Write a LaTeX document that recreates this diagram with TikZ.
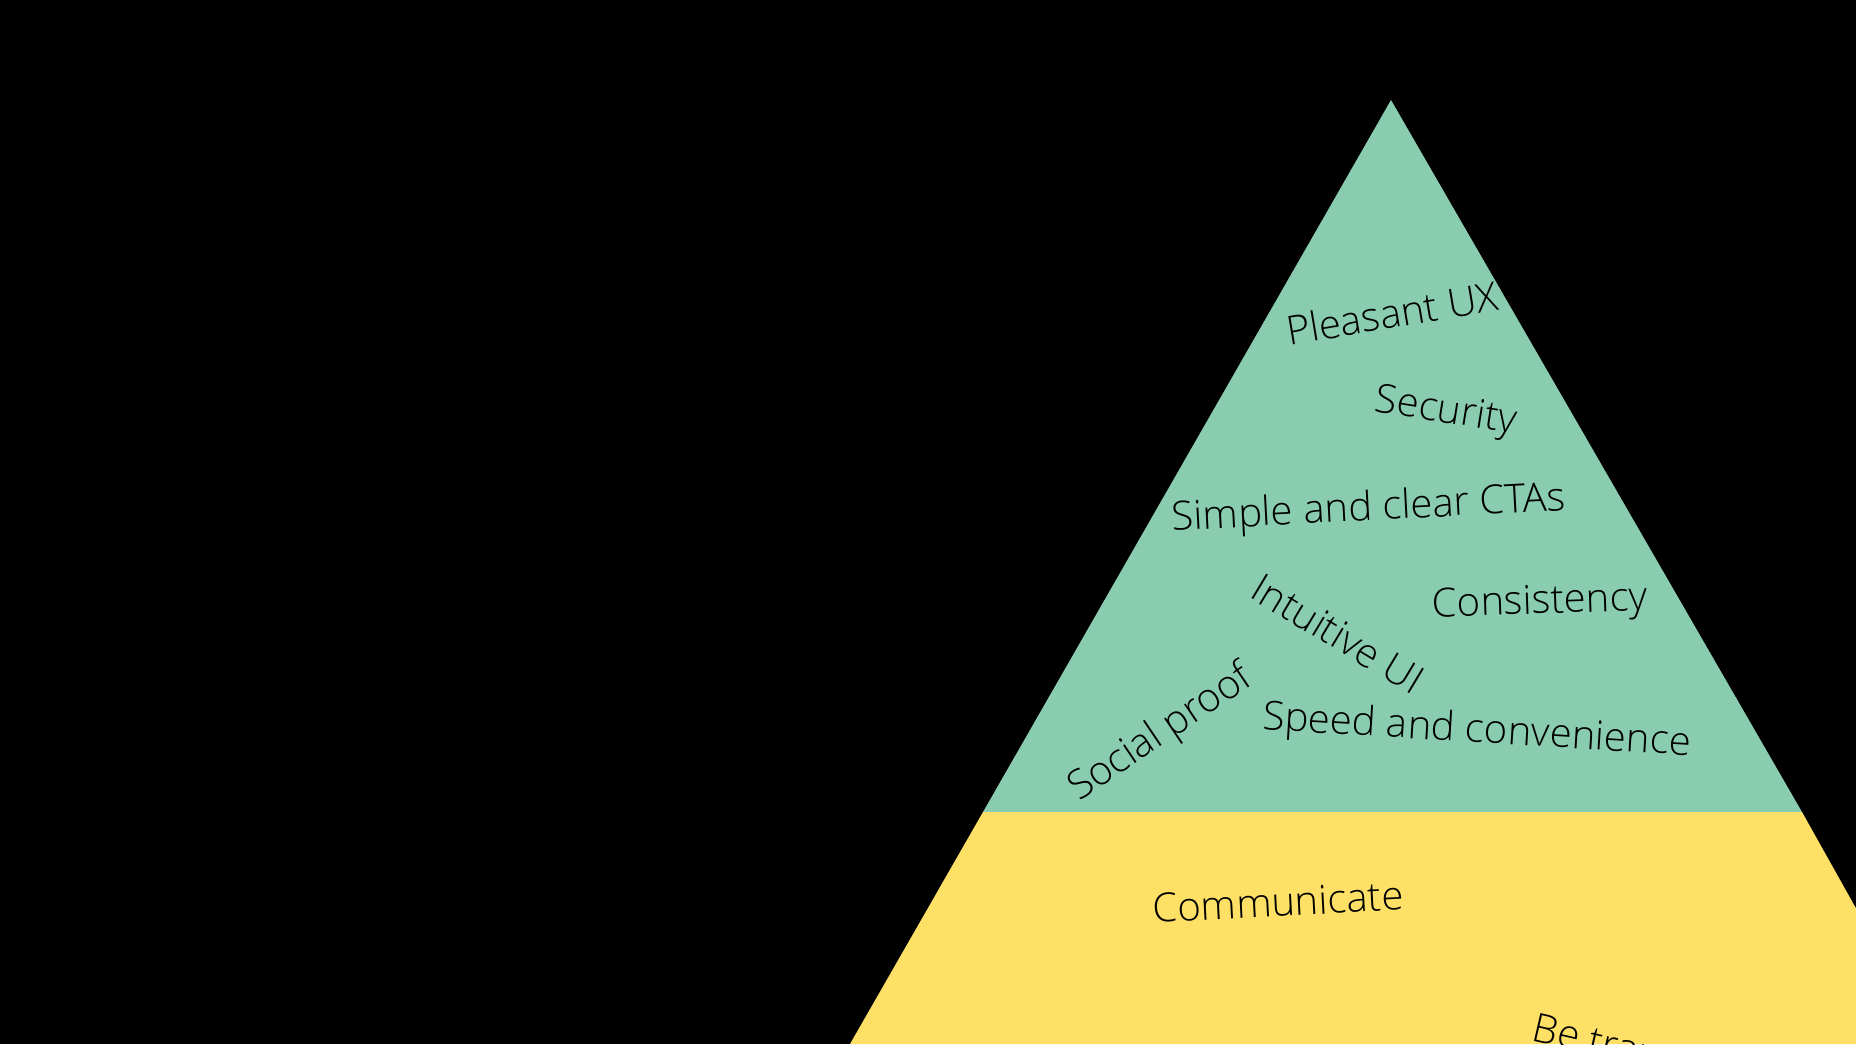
\documentclass[tikz,border=0pt]{standalone}
\usepackage{fontspec}
\setmainfont{Open Sans Light}
\definecolor{topgreen}{HTML}{8ACCB0}
\definecolor{baseyellow}{HTML}{FFE066}
\begin{document}
\begin{tikzpicture}[x=1cm,y=1cm,
  lbl/.style={font=\fontsize{11.4}{13.5}\selectfont, text=black, inner sep=0pt}]
\useasboundingbox (0,0) rectangle (18.56,10.44);
\fill[black] (0,0) rectangle (18.56,10.44);
\clip (0,0) rectangle (18.56,10.44);
% pyramid
\coordinate (apex) at (13.91,9.44);
\coordinate (bl) at (9.83,2.32);
\coordinate (br) at (18.02,2.32);
\coordinate (bbl) at (8.50,0);
\coordinate (bbr) at (19.32,0);
\fill[topgreen] (apex) -- (br) -- (bl) -- cycle;
\fill[baseyellow] (bl) -- (br) -- (bbr) -- (bbl) -- cycle;
% labels
\node[lbl, rotate=9.5] (ux) at (13.92,7.31) {Pleasant UX};
\node[lbl, rotate=-9] (sec) at (14.46,6.31) {Security};
\node[lbl, rotate=3] (cta) at (13.69,5.34) {Simple and clear CTAs};
\node[lbl, rotate=2] (cons) at (15.40,4.40) {Consistency};
\node[lbl, rotate=-31] (ui) at (13.38,4.10) {Intuitive UI};
\node[lbl, rotate=34] (soc) at (11.61,3.10) {Social proof};
\node[lbl, rotate=-3.5] (speed) at (14.77,3.12) {Speed and convenience};
\node[lbl, rotate=3] (comm) at (12.78,1.42) {Communicate};
\node[lbl, rotate=-13, anchor=base west] (betr) at (15.30,0.04) {Be transparent};
\end{tikzpicture}
\end{document}
